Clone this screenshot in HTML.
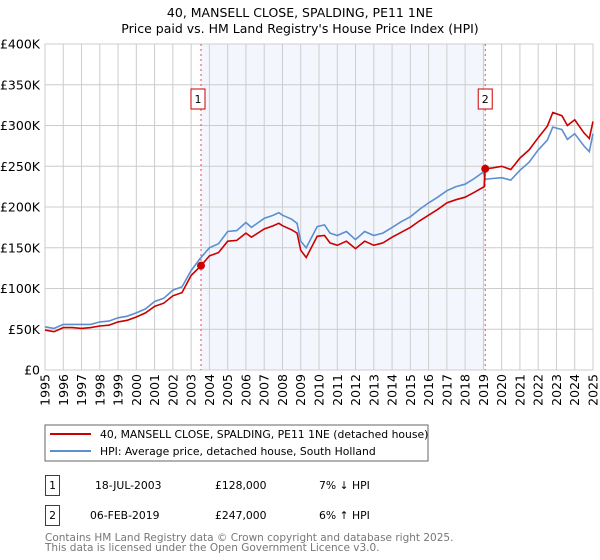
<!DOCTYPE html>
<html><head><meta charset="utf-8"><style>
body{margin:0;background:#fff;font-family:"DejaVu Sans","Liberation Sans",sans-serif}
svg{display:block}
</style></head><body>
<svg id="chart" width="600" height="560" xmlns="http://www.w3.org/2000/svg" font-family="DejaVu Sans, Liberation Sans, sans-serif">
<text x="300" y="17" text-anchor="middle" font-size="12.5" fill="#000">40, MANSELL CLOSE, SPALDING, PE11 1NE</text>
<text x="300" y="33" text-anchor="middle" font-size="12.5" fill="#000">Price paid vs. HM Land Registry's House Price Index (HPI)</text>
<g id="plot"></g>
<g>
<rect x="45" y="425" width="383" height="36" fill="#fff" stroke="#666" stroke-width="1"/>
<line x1="50" y1="434" x2="91" y2="434" stroke="#cc0000" stroke-width="2"/>
<text x="100" y="438" font-size="10.8">40, MANSELL CLOSE, SPALDING, PE11 1NE (detached house)</text>
<line x1="50" y1="451" x2="91" y2="451" stroke="#5b8fd0" stroke-width="2"/>
<text x="100" y="455" font-size="10.8">HPI: Average price, detached house, South Holland</text>
</g>
<g font-size="10.8">
<rect x="45.5" y="475.5" width="14" height="20" fill="#fff" stroke="#cc0000"/>
<text x="52.5" y="489" text-anchor="middle">1</text>
<text x="95" y="489">18-JUL-2003</text>
<text x="215" y="489">£128,000</text>
<text x="319" y="489">7% ↓ HPI</text>
<rect x="45.5" y="505.5" width="14" height="20" fill="#fff" stroke="#cc0000"/>
<text x="52.5" y="519" text-anchor="middle">2</text>
<text x="90" y="519">06-FEB-2019</text>
<text x="215" y="519">£247,000</text>
<text x="319" y="519">6% ↑ HPI</text>
</g>
<text x="45" y="541" font-size="10.5" fill="#777">Contains HM Land Registry data © Crown copyright and database right 2025.</text>
<text x="45" y="551" font-size="10.5" fill="#777">This data is licensed under the Open Government Licence v3.0.</text>
</svg>
<script>
const hpiYears=[1995,1995.5,1996,1996.5,1997,1997.5,1998,1998.5,1999,1999.5,2000,2000.5,2001,2001.5,2002,2002.5,2003,2003.5,2004,2004.5,2005,2005.5,2006,2006.3,2007,2007.5,2007.8,2008,2008.5,2008.8,2009,2009.3,2009.9,2010.3,2010.6,2011,2011.5,2012,2012.5,2013,2013.5,2014,2014.5,2015,2015.5,2016,2016.5,2017,2017.5,2018,2018.5,2019,2019.1,2019.5,2020,2020.5,2021,2021.5,2022,2022.5,2022.8,2023.3,2023.6,2024,2024.5,2024.8,2025];
const hpiValues=[53,51,56,56,56,56,59,60,64,66,70,75,84,88,98,102,122,137,150,155,170,171,181,175,186,190,193,190,185,180,158,150,176,178,168,165,170,160,170,165,168,175,182,188,197,205,212,220,225,228,235,243,234,235,236,233,245,255,270,282,298,295,283,290,275,268,290];
const redYears=[1995,1995.5,1996,1996.5,1997,1997.5,1998,1998.5,1999,1999.5,2000,2000.5,2001,2001.5,2002,2002.5,2003,2003.54,2004,2004.5,2005,2005.5,2006,2006.3,2007,2007.5,2007.8,2008,2008.5,2008.8,2009,2009.3,2009.9,2010.3,2010.6,2011,2011.5,2012,2012.5,2013,2013.5,2014,2014.5,2015,2015.5,2016,2016.5,2017,2017.5,2018,2018.5,2019.05,2019.1,2019.5,2020,2020.5,2021,2021.5,2022,2022.5,2022.8,2023.3,2023.6,2024,2024.5,2024.8,2025];
const redValues=[49,47,52,52,51,52,54,55,59,61,65,70,78,82,91,95,116,128,140,144,158,159,168,163,173,177,180,177,172,168,147,138,164,165,156,153,158,149,158,153,156,163,169,175,183,190,197,205,209,212,218,225,247,248,250,246,260,270,285,299,316,312,300,307,291,284,305];
const yTicks=[0,50,100,150,200,250,300,350,400];
const yTickLabels=["£0","£50K","£100K","£150K","£200K","£250K","£300K","£350K","£400K"];
const xTicks=[1995,1996,1997,1998,1999,2000,2001,2002,2003,2004,2005,2006,2007,2008,2009,2010,2011,2012,2013,2014,2015,2016,2017,2018,2019,2020,2021,2022,2023,2024,2025];
const saleYears=[2003.54,2019.1];
const saleValues=[128,247];
const saleLabels=["1","2"];

const X0=45,X1=593,Y0=370,Y1=44;
const xs=y=>X0+(y-1995)/30*(X1-X0);
const ys=v=>Y0-v/400*(Y0-Y1);
const NS="http://www.w3.org/2000/svg";
const plot=document.getElementById('plot');
function mk(tag,attrs,parent){const e=document.createElementNS(NS,tag);for(const k in attrs)e.setAttribute(k,attrs[k]);(parent||plot).appendChild(e);return e;}

const shade=mk('rect',{x:xs(saleYears[0]),y:Y1,width:xs(saleYears[1])-xs(saleYears[0]),height:Y0-Y1,fill:'#eef3fc',opacity:0.7});



yTicks.forEach((t,i)=>{
  const l=mk('line',{x1:X0,x2:X1,y1:ys(t),y2:ys(t),stroke:'#cccccc','stroke-width':1});
  
  
  const tx=mk('text',{x:40,y:ys(t)+4.5,'text-anchor':'end','font-size':12.5,fill:'#000'});
  tx.textContent=yTickLabels[i];
  
  
});
xTicks.forEach(t=>{
  const l=mk('line',{x1:xs(t),x2:xs(t),y1:Y1,y2:Y0,stroke:'#cccccc','stroke-width':1});
  
  
  const tx=mk('text',{transform:`translate(${xs(t)+4.5},374) rotate(-90)`,'text-anchor':'end','font-size':12.5,fill:'#000'});
  tx.textContent=t;
  
  
});
const border=mk('rect',{x:X0,y:Y1,width:X1-X0,height:Y0-Y1,fill:'none',stroke:'#cccccc'});



saleYears.forEach((s,i)=>{
  const l=mk('line',{x1:xs(s),x2:xs(s),y1:Y1,y2:Y0,stroke:'#e05050','stroke-width':1,'stroke-dasharray':'2,3'});
  
  
  const bx=xs(s)-(i===0?3:0);
  const r=mk('rect',{x:bx-7,y:89,width:14,height:20,fill:'#fff',stroke:'#cc0000'});
  
  
  const t=mk('text',{x:bx,y:103,'text-anchor':'middle','font-size':11});
  t.textContent=saleLabels[i];
  
  
});

const hp=mk('path',{d:hpiYears.map((y,i)=>(i?'L':'M')+xs(y).toFixed(1)+','+ys(hpiValues[i]).toFixed(1)).join(''),fill:'none',stroke:'#5b8fd0','stroke-width':1.6});


const rp=mk('path',{d:redYears.map((y,i)=>(i?'L':'M')+xs(y).toFixed(1)+','+ys(redValues[i]).toFixed(1)).join(''),fill:'none',stroke:'#cc0000','stroke-width':1.6});


saleYears.forEach((s,i)=>{
  const c=mk('circle',{cx:xs(s),cy:ys(saleValues[i]),r:4,fill:'#cc0000'});
  
  
});
</script>
</body></html>
